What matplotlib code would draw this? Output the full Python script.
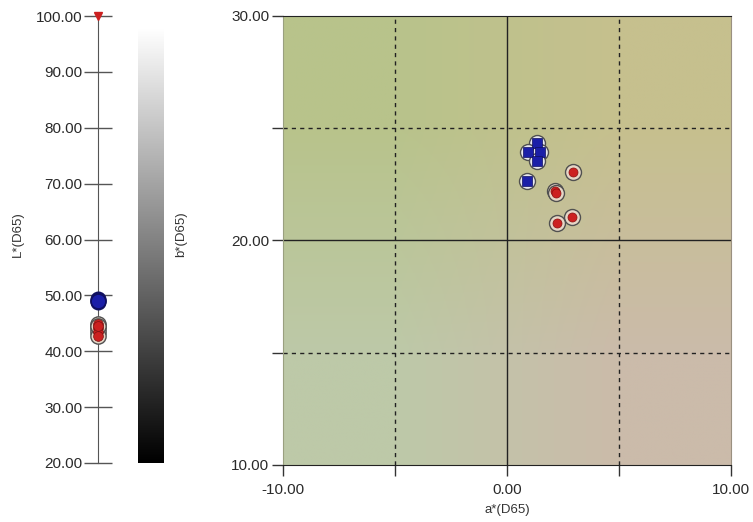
import matplotlib
matplotlib.use("Agg")
import matplotlib.pyplot as plt
import numpy as np

plt.rcParams['font.family'] = ['Liberation Sans', 'DejaVu Sans']

# Data
a_blue = [1.34, 0.94, 1.47, 1.34, 0.89]
b_blue = [24.34, 23.94, 23.94, 23.54, 22.65]
a_red = [2.95, 2.14, 2.20, 2.90, 2.23]
b_red = [23.05, 22.20, 22.10, 21.05, 20.78]
L_blue = [49.4, 49.0, 49.2, 48.8, 49.0]
L_red = [44.9, 44.2, 43.4, 42.8, 44.5]
L_ref = [100.0]
L_ticks = [20, 30, 40, 50, 60, 70, 80, 90, 100]
a_ticks = [-10, 0, 10]
b_ticks = [10, 20, 30]

W, H = 753, 522
fig = plt.figure(figsize=(W/100, H/100), dpi=100)

def rect(x0, y0, x1, y1):
    return [x0/W, 1 - y1/H, (x1-x0)/W, (y1-y0)/H]

tick_color = '#2a2a2a'
tick_fs = 11
label_fs = 9.5
blue = '#1b1fa8'
red = '#cc2020'
ring_face = '#e6d6c6'
ring_edge = '#505050'

# L* axis
axL = fig.add_axes(rect(98, 16, 120, 463))
axL.set_xlim(0, 1)
axL.set_ylim(20, 100)
for s in ['top', 'right', 'bottom']:
    axL.spines[s].set_visible(False)
axL.spines['left'].set_color('#555555')
axL.patch.set_alpha(0)
axL.set_xticks([])
axL.set_yticks(L_ticks)
axL.set_yticklabels([f"{v:.2f}" for v in L_ticks], fontsize=tick_fs, color=tick_color)
axL.tick_params(axis='y', direction='inout', length=20, width=1, color='#555555', pad=1)
for L in L_red:
    axL.plot([0], [L], 'o', ms=11, mfc=ring_face, mec=ring_edge, mew=1, clip_on=False, zorder=3)
for L in L_red:
    axL.plot([0], [L], 'o', ms=7, mfc=red, mec='#7a1010', mew=0.5, clip_on=False, zorder=4)
for L in L_blue:
    axL.plot([0], [L], 'o', ms=10.5, mfc=blue, mec='#101060', mew=1, clip_on=False, zorder=5)
axL.plot([0], L_ref, 'v', ms=6, color=red, clip_on=False, zorder=6)
fig.text(18/W, 1 - 234/H, 'L*(D65)', rotation=90, fontsize=label_fs, color='#333333',
         ha='center', va='center')

# Gray colorbar (b*)
axC = fig.add_axes(rect(138, 28, 164, 463))
grad = np.linspace(1, 0, 256).reshape(-1, 1)
axC.imshow(grad, aspect='auto', cmap='gray', vmin=0, vmax=1, extent=[0, 1, 0, 1])
axC.axis('off')
fig.text(181/W, 1 - 234/H, 'b*(D65)', rotation=90, fontsize=label_fs, color='#333333',
         ha='center', va='center')

# Main a*/b* plot
ax = fig.add_axes(rect(283, 16, 731, 465))
ax.set_xlim(-10, 10)
ax.set_ylim(10, 30)
corners = np.array([[[0xb8, 0xc3, 0x8b], [0xc6, 0xc0, 0x8e]],
                    [[0xbd, 0xc9, 0xa8], [0xcb, 0xbb, 0xaa]]]) / 255.0
ax.imshow(corners, extent=[-10, 10, 10, 30], origin='upper', aspect='auto',
          interpolation='bilinear', zorder=0)
for v in [-5, 5]:
    ax.axvline(v, color='#222222', lw=1, ls=(0, (3, 3)), zorder=1)
for v in [15, 25]:
    ax.axhline(v, color='#222222', lw=1, ls=(0, (3, 3)), zorder=1)
ax.axvline(0, color='#222222', lw=1, zorder=1)
ax.axhline(20, color='#222222', lw=1, zorder=1)
ax.spines['top'].set_color('#222222')
ax.spines['bottom'].set_color('#222222')
ax.spines['left'].set_color('#9aa080')
ax.spines['right'].set_color('#9a9080')
ax.set_xticks(a_ticks)
ax.set_xticklabels([f"{v:.2f}" for v in a_ticks], fontsize=tick_fs, color=tick_color)
ax.set_xticks([-5, 5], minor=True)
ax.set_yticks(b_ticks)
ax.set_yticklabels([f"{v:.2f}" for v in b_ticks], fontsize=tick_fs, color=tick_color)
ax.set_yticks([15, 25], minor=True)
ax.tick_params(axis='both', which='both', direction='out', length=8, width=1, color='#333333', pad=2)
ax.tick_params(axis='x', which='major', pad=5)
ax.set_xlabel('a*(D65)', fontsize=label_fs, color='#333333', labelpad=5)

ax.scatter(a_red, b_red, s=11.5**2, facecolor=ring_face, edgecolor=ring_edge, lw=1, zorder=3)
ax.scatter(a_red, b_red, s=6.5**2, marker='o', color=red, edgecolor='#8a1010', lw=0.5, zorder=4)
ax.scatter(a_blue, b_blue, s=11.5**2, facecolor='#e8e8f0', edgecolor=ring_edge, lw=1, zorder=5)
ax.scatter(a_blue, b_blue, s=7.5**2, marker='s', color=blue, edgecolor='#101060', lw=0.5, zorder=6)

fig.savefig('out.png', dpi=100)
